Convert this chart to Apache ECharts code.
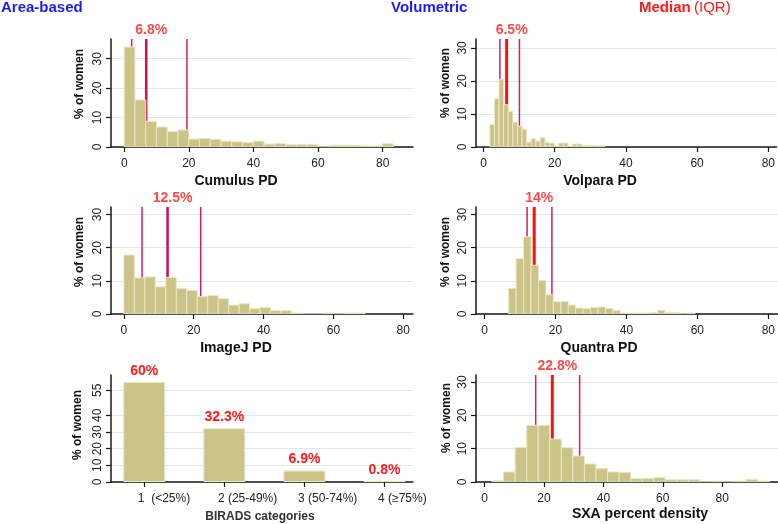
<!DOCTYPE html>
<html>
<head>
<meta charset="utf-8">
<title>Percent density distributions</title>
<script src="https://cdn.jsdelivr.net/npm/echarts@6.0.0/dist/echarts.min.js"></script>
<style>
  html, body { margin: 0; padding: 0; background: #fff; }
  #main { width: 778px; height: 524px; }
</style>
</head>
<body>
<div id="main"></div>
<script>
// % of women in each histogram bin
var cumulusPD = [34.0, 16.0, 8.7, 6.8, 5.3, 5.8, 2.7, 2.9, 2.6, 2.0, 1.8, 1.5, 2.0, 1.0, 1.2, 0.8, 0.8, 0.9, 0, 0.6, 0.6, 0.6, 0.4, 0.4, 1.1];
var volparaPD = [6.8, 14.6, 20.5, 12.8, 10.8, 7.5, 6.3, 5.4, 1.5, 2.5, 1.8, 2.9, 1.4, 1.2, 0.3, 1.2, 1.2, 0.3, 0.9, 0.9, 0.5, 0.5, 0.5, 0.4, 0.4];
var imagejPD = [17.8, 10.9, 11.2, 8.2, 11.0, 7.7, 7.1, 5.3, 5.6, 4.6, 2.7, 3.1, 1.6, 2.0, 1.0, 1.0, 0.3, 0, 0, 0.3, 0, 0.3, 0.3];
var quantraPD = [7.7, 16.7, 23.3, 14.7, 10.1, 5.8, 3.7, 3.8, 2.7, 1.8, 1.6, 2.0, 2.1, 1.7, 1.0, 0.3, 0.3, 0.3, 0.3, 0.4, 1.1, 0.4, 0.4, 0, 0.3];
var sxaPD = [0.4, 3.0, 10.4, 17.0, 17.0, 12.9, 10.3, 7.8, 5.4, 4.0, 3.0, 2.9, 1.0, 1.0, 1.3, 0.7, 0.7, 0.7, 0, 0.3, 0, 0.3, 0.8, 0.3];

// bin start / bin width of each histogram
var cumulusBins = [0, 3.33];
var volparaBins = [1.8, 1.29];
var imagejBins = [0, 3];
var quantraBins = [6.8, 2.1];
var sxaBins = [2.5, 3.89];

// [25th pct, median, 75th pct]
var cumulusQ = [2.3, 6.8, 19.4];
var volparaQ = [4.6, 6.5, 10.1];
var imagejQ = [5.2, 12.5, 22.0];
var quantraQ = [12.0, 14, 19.0];
var sxaQ = [17.2, 22.8, 32.0];

// BIRADS
var biradsCats = [1, 2, 3, 4];
var biradsLabels = ['1  (<25%)', '2 (25-49%)', '3 (50-74%)', '4 (\u226575%)'];
var biradsPct = [60, 32.3, 6.9, 0.8];

// tick values
var pdTicks = [0, 20, 40, 60, 80];
var pctTicks = [0, 10, 20, 30];
var biradsTicks = [0, 10, 20, 30, 40, 55];

var FONT = "'Liberation Sans', Arial, sans-serif";
var AXIS = '#1a1a1a';
var BAR = '#ccc388';
var THIN = '#d3205c';

var panels = [
  { title: 'Cumulus PD', vals: cumulusPD, bins: cumulusBins, q: cumulusQ, thick: '#cf1048', tw: 2.5,
    grid: { left: 111, top: 39, width: 302, height: 108 }, x: [-4.1, 89.4], yMax: 36.7,
    tpos: [236, 181], ypos: [80, 84] },
  { title: 'Volpara PD', vals: volparaPD, bins: volparaBins, q: volparaQ, thick: '#ff1010', tw: 3,
    grid: { left: 476, top: 39, width: 302, height: 108 }, x: [-2.1, 82.3], yMax: 32.7,
    tpos: [600, 181], ypos: [446, 83] },
  { title: 'ImageJ PD', vals: imagejPD, bins: imagejBins, q: imagejQ, thick: '#cf1048', tw: 2.5,
    grid: { left: 111, top: 207, width: 302, height: 107 }, x: [-3.7, 82.8], yMax: 32.3,
    tpos: [236, 348], ypos: [80, 252] },
  { title: 'Quantra PD', vals: quantraPD, bins: quantraBins, q: quantraQ, thick: '#ff1010', tw: 3,
    grid: { left: 476, top: 207, width: 302, height: 107 }, x: [-2.4, 82.7], yMax: 32.3,
    tpos: [599, 348], ypos: [446, 252] },
  { title: 'SXA percent density', vals: sxaPD, bins: sxaBins, q: sxaQ, thick: '#ff1010', tw: 3,
    grid: { left: 476, top: 375, width: 302, height: 107 }, x: [-2.9, 98.8], yMax: 32.1,
    tpos: [640, 514], ypos: [447, 418] }
];

function binsToData(vals, bins) {
  return vals.map(function (v, i) {
    return [bins[0] + i * bins[1], bins[0] + (i + 1) * bins[1], v];
  });
}

function renderBin(params, api) {
  var p0 = api.coord([api.value(0), api.value(2)]);
  var p1 = api.coord([api.value(1), 0]);
  return {
    type: 'rect',
    shape: { x: p0[0], y: p0[1], width: p1[0] - p0[0], height: p1[1] - p0[1] },
    style: { fill: BAR, stroke: '#ece7c6', lineWidth: 1 }
  };
}

function xAxisOf(idx, range, ticks, labelTicks) {
  return {
    type: 'value', gridIndex: idx, min: range[0], max: range[1],
    axisLine: { show: true, onZero: false, lineStyle: { color: AXIS, width: 1.5 } },
    axisTick: { show: true, length: 5, customValues: ticks, lineStyle: { color: AXIS, width: 1.2 } },
    axisLabel: { customValues: labelTicks || ticks, margin: 11, fontSize: 12, color: '#222', fontFamily: FONT },
    splitLine: { show: false }
  };
}

function yAxisOf(idx, max, ticks) {
  return {
    type: 'value', gridIndex: idx, min: 0, max: max,
    axisLine: { show: true, onZero: false, lineStyle: { color: AXIS, width: 1.5 } },
    axisTick: { show: true, length: 5, customValues: ticks, lineStyle: { color: AXIS, width: 1.2 } },
    axisLabel: { customValues: ticks, rotate: 90, margin: 7, fontSize: 12, color: '#222', fontFamily: FONT },
    splitLine: { show: true, lineStyle: { color: '#dde9ec', width: 1 } }
  };
}

var grids = [], xAxes = [], yAxes = [], series = [], texts = [];

panels.forEach(function (p, k) {
  grids.push(p.grid);
  xAxes.push(xAxisOf(k, p.x, pdTicks));
  yAxes.push(yAxisOf(k, p.yMax, pctTicks));

  // IQR and median lines, drawn behind the bars
  p.q.forEach(function (v, i) {
    series.push({
      type: 'line', xAxisIndex: k, yAxisIndex: k, z: 1, silent: true,
      symbol: 'none', animation: false,
      lineStyle: { color: i === 1 ? p.thick : THIN, width: i === 1 ? p.tw : 1.5 },
      data: [[v, 0], [v, p.yMax]]
    });
  });

  series.push({
    type: 'custom', xAxisIndex: k, yAxisIndex: k, z: 3, clip: true,
    renderItem: renderBin, encode: { x: [0, 1], y: 2 },
    data: binsToData(p.vals, p.bins)
  });

  // median label above the plot
  series.push({
    type: 'scatter', xAxisIndex: k, yAxisIndex: k, z: 4, silent: true,
    symbolSize: 1, itemStyle: { color: 'transparent' },
    label: {
      show: true, position: 'top', distance: 1, offset: [5, 0],
      formatter: p.q[1] + '%', color: '#ff1a1a', fontWeight: 'bold', fontSize: 14, fontFamily: FONT
    },
    data: [[p.q[1], p.yMax]]
  });

  texts.push({ t: p.title, x: p.tpos[0], y: p.tpos[1], size: 14 });
  texts.push({ t: '% of women', x: p.ypos[0], y: p.ypos[1], size: 12, rot: true });
});

// BIRADS panel (grid index 5)
grids.push({ left: 111, top: 375, width: 302, height: 107 });
xAxes.push(xAxisOf(5, [0.585, 4.356], biradsCats, biradsCats.map(function (c) { return c - 0.08; })));
xAxes[5].axisLabel.align = 'left';
xAxes[5].axisLabel.margin = 11;
xAxes[5].axisLabel.formatter = function (v) { return biradsLabels[Math.round(v) - 1]; };
yAxes.push(yAxisOf(5, 64.2, biradsTicks));
series.push({
  type: 'bar', xAxisIndex: 5, yAxisIndex: 5, barWidth: 42,
  itemStyle: { color: BAR, borderColor: '#ece7c6', borderWidth: 1 },
  label: {
    show: true, position: 'top', distance: 4,
    formatter: function (d) { return d.value[1] + '%'; },
    color: '#ff1a1a', fontWeight: 'bold', fontSize: 14, fontFamily: FONT
  },
  data: biradsCats.map(function (c, i) { return [c, biradsPct[i]]; })
});
texts.push({ t: 'BIRADS categories', x: 260, y: 517, size: 12, color: '#333' });
texts.push({ t: '% of women', x: 78, y: 425, size: 12, rot: true });

var graphic = texts.map(function (d) {
  return {
    type: 'text', x: d.x, y: d.y, rotation: d.rot ? Math.PI / 2 : 0,
    style: {
      text: d.t, fill: d.color || '#111', font: 'bold ' + d.size + 'px ' + FONT,
      align: 'center', verticalAlign: 'middle'
    }
  };
});

// header row
graphic.push({ type: 'text', x: 1, y: 8, style: { text: 'Area-based', fill: '#1a1aff', font: 'bold 15px ' + FONT, verticalAlign: 'middle' } });
graphic.push({ type: 'text', x: 391, y: 8, style: { text: 'Volumetric', fill: '#1a1aff', font: 'bold 15px ' + FONT, verticalAlign: 'middle' } });
graphic.push({
  type: 'text', x: 639, y: 8,
  style: {
    text: '{b|Median} {n|(IQR)}', verticalAlign: 'middle',
    rich: {
      b: { fill: '#ff1a1a', font: 'bold 15px ' + FONT },
      n: { fill: '#ff1a1a', font: '15px ' + FONT }
    }
  }
});

var chart = echarts.init(document.getElementById('main'));
chart.setOption({
  animation: false,
  backgroundColor: '#fff',
  grid: grids,
  xAxis: xAxes,
  yAxis: yAxes,
  series: series,
  graphic: graphic
});
</script>
</body>
</html>
